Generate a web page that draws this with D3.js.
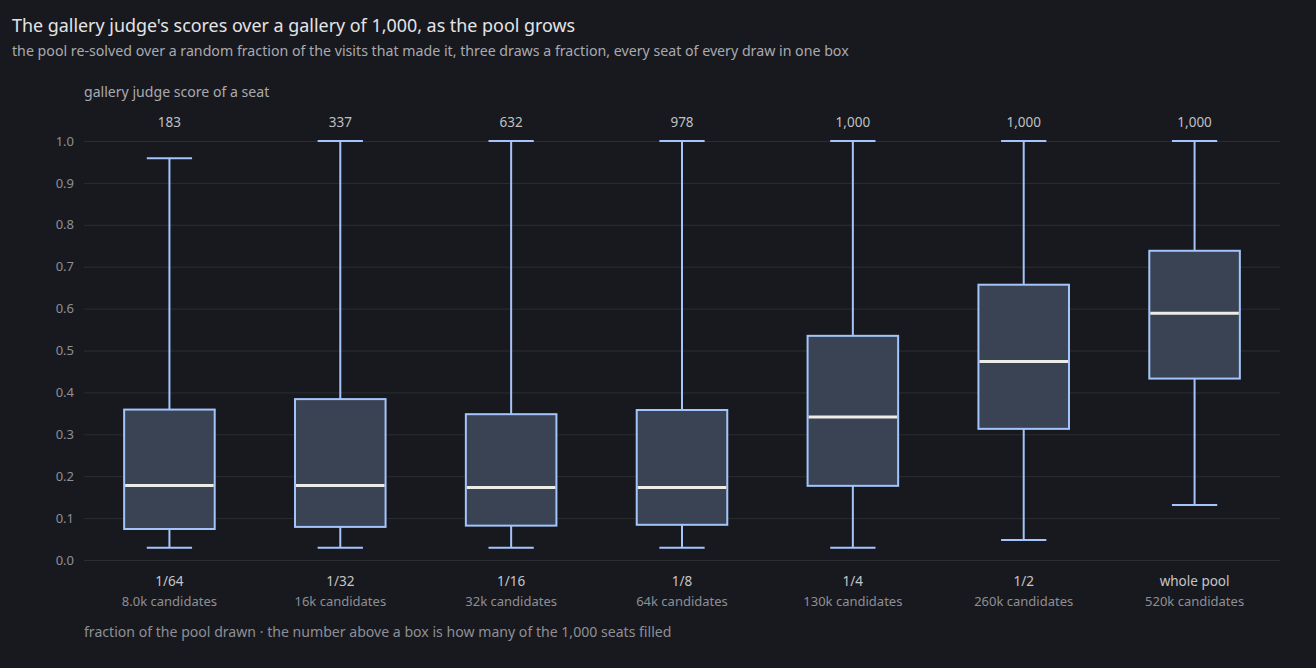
<!DOCTYPE html>
<html>
<head>
<meta charset="utf-8">
<script src="https://cdn.jsdelivr.net/npm/d3@7"></script>
<style>
  body { margin: 0; background: #18191e; }
  svg { display: block; font-family: "Noto Sans", "Open Sans", sans-serif; }
</style>
</head>
<body>
<svg id="chart" width="1316" height="668"></svg>
<script>
"use strict";

// chart values
var fractions = ["1/64", "1/32", "1/16", "1/8", "1/4", "1/2", "whole pool"];
var candidates = ["8.0k candidates", "16k candidates", "32k candidates", "64k candidates",
                  "130k candidates", "260k candidates", "520k candidates"];
var seatsFilled = [183, 337, 632, 978, 1000, 1000, 1000];
var whiskerLow = [0.029, 0.029, 0.029, 0.029, 0.029, 0.048, 0.131];
var q1 = [0.074, 0.079, 0.082, 0.084, 0.177, 0.313, 0.433];
var median = [0.178, 0.178, 0.173, 0.173, 0.341, 0.474, 0.589];
var q3 = [0.359, 0.384, 0.348, 0.358, 0.535, 0.657, 0.738];
var whiskerHigh = [0.959, 1.0, 1.0, 1.0, 1.0, 1.0, 1.0];
var yTicks = [0, 0.1, 0.2, 0.3, 0.4, 0.5, 0.6, 0.7, 0.8, 0.9, 1.0];

var svg = d3.select("#chart");
var margin = {left: 84, right: 36, top: 141, bottom: 108};
var width = 1316 - margin.left - margin.right;
var height = 668 - margin.top - margin.bottom;

var x = d3.scaleBand().domain(fractions).range([margin.left, margin.left + width]);
var y = d3.scaleLinear().domain([0, 1]).range([margin.top + height, margin.top]);

// title and subtitle
svg.append("text").attr("x", 12).attr("y", 32)
  .attr("fill", "#e4e4e6").attr("font-size", "17.9px")
  .text("The gallery judge's scores over a gallery of 1,000, as the pool grows");
svg.append("text").attr("x", 12).attr("y", 56)
  .attr("fill", "#a9aab0").attr("font-size", "14.2px")
  .text("the pool re-solved over a random fraction of the visits that made it, three draws a fraction, every seat of every draw in one box");

svg.append("text").attr("x", margin.left).attr("y", 97)
  .attr("fill", "#a9aab0").attr("font-size", "14.1px")
  .text("gallery judge score of a seat");

// grid + y axis
var yAxis = svg.append("g")
  .attr("transform", "translate(" + margin.left + ",0)")
  .call(d3.axisLeft(y).tickValues(yTicks).tickFormat(d3.format(".1f")).tickSize(-width).tickPadding(10));
yAxis.select(".domain").remove();
yAxis.selectAll(".tick line").attr("stroke", "#2c2d33").attr("stroke-width", 1);
yAxis.selectAll(".tick text").attr("fill", "#8e8f96").attr("font-size", "13px")
  .attr("font-family", "\"Noto Sans\", sans-serif");

var rows = fractions.map(function(f, i) {
  return {f: f, lo: whiskerLow[i], q1: q1[i], med: median[i], q3: q3[i], hi: whiskerHigh[i],
          n: seatsFilled[i], c: candidates[i]};
});

var boxW = x.bandwidth() * 0.53;
var capW = boxW / 2;
var stroke = "#a3c5fb";

var g = svg.append("g").selectAll("g").data(rows).enter().append("g")
  .attr("transform", function(d) { return "translate(" + (x(d.f) + x.bandwidth() / 2) + ",0)"; });

// whiskers
g.append("line").attr("x1", 0).attr("x2", 0)
  .attr("y1", function(d) { return y(d.hi); }).attr("y2", function(d) { return y(d.q3); })
  .attr("stroke", stroke).attr("stroke-width", 2);
g.append("line").attr("x1", 0).attr("x2", 0)
  .attr("y1", function(d) { return y(d.q1); }).attr("y2", function(d) { return y(d.lo); })
  .attr("stroke", stroke).attr("stroke-width", 2);
g.append("line").attr("x1", -capW / 2).attr("x2", capW / 2)
  .attr("y1", function(d) { return y(d.hi); }).attr("y2", function(d) { return y(d.hi); })
  .attr("stroke", stroke).attr("stroke-width", 2);
g.append("line").attr("x1", -capW / 2).attr("x2", capW / 2)
  .attr("y1", function(d) { return y(d.lo); }).attr("y2", function(d) { return y(d.lo); })
  .attr("stroke", stroke).attr("stroke-width", 2);

// box
g.append("rect").attr("x", -boxW / 2).attr("width", boxW)
  .attr("y", function(d) { return y(d.q3); })
  .attr("height", function(d) { return y(d.q1) - y(d.q3); })
  .attr("fill", "#3a4354").attr("stroke", stroke).attr("stroke-width", 2);

// median
g.append("line").attr("x1", -boxW / 2 + 1).attr("x2", boxW / 2 - 1)
  .attr("y1", function(d) { return y(d.med); }).attr("y2", function(d) { return y(d.med); })
  .attr("stroke", "#eeece6").attr("stroke-width", 3);

// seats filled above each box
g.append("text").attr("y", 127).attr("text-anchor", "middle")
  .attr("fill", "#bfc0c5").attr("font-size", "13.5px")
  .text(function(d) { return d3.format(",")(d.n); });

// x labels
g.append("text").attr("y", 586).attr("text-anchor", "middle")
  .attr("fill", "#c4c5ca").attr("font-size", "13.5px")
  .text(function(d) { return d.f; });
g.append("text").attr("y", 606).attr("text-anchor", "middle")
  .attr("fill", "#8e8f96").attr("font-size", "13px")
  .text(function(d) { return d.c; });

svg.append("text").attr("x", margin.left).attr("y", 637)
  .attr("fill", "#8e8f96").attr("font-size", "14.1px")
  .text("fraction of the pool drawn \u00b7 the number above a box is how many of the 1,000 seats filled");
</script>
</body>
</html>
